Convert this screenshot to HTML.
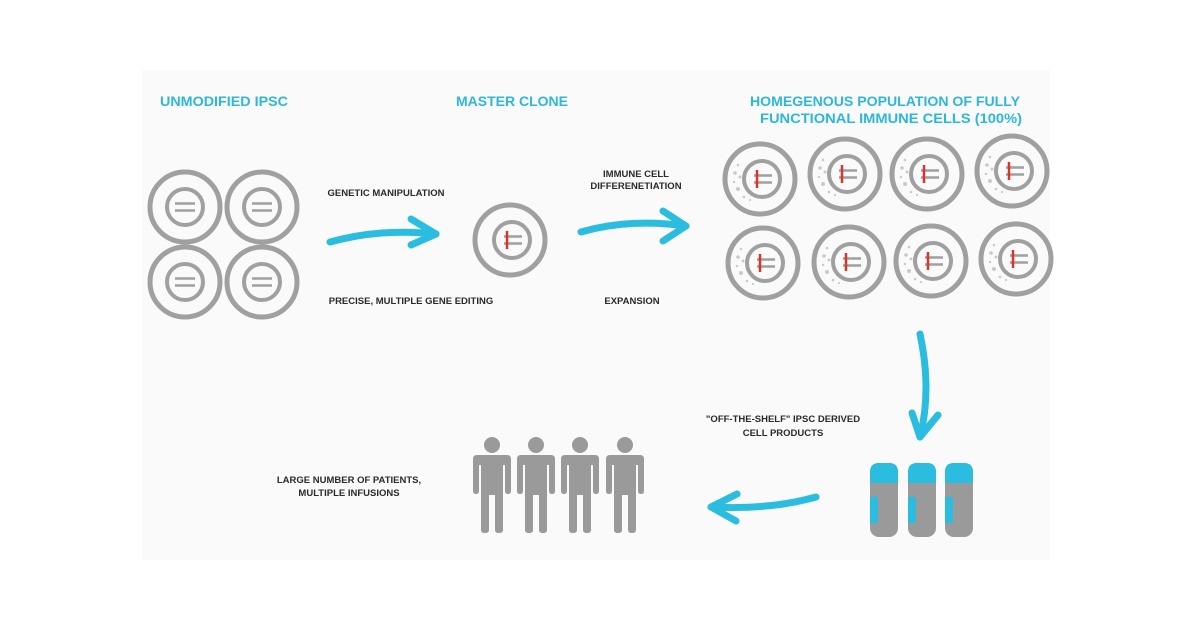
<!DOCTYPE html>
<html><head><meta charset="utf-8"><style>
html,body{margin:0;padding:0;background:#fff;width:1200px;height:627px;overflow:hidden}
svg{display:block}
.t{font-family:"Liberation Sans Narrow","Liberation Sans",sans-serif;fill:#2cb8dc;font-size:14px;font-weight:bold}
.s{font-family:"Liberation Sans",sans-serif;fill:#2a2a2a;font-size:9.5px;font-weight:bold}
.o{fill:none;stroke:#a0a0a0;stroke-width:5}
.i{fill:none;stroke:#a0a0a0;stroke-width:4}
.l{stroke:#a0a0a0;stroke-width:2.5}
.r{stroke:#d9362b;stroke-width:2.5}
.a{fill:none;stroke:#2bbde0;stroke-width:7;stroke-linecap:round;stroke-linejoin:round}
.d{fill:#cacaca}
</style></head><body>
<svg width="1200" height="627" viewBox="0 0 1200 627">
<rect x="142" y="70" width="908" height="490" fill="#fafafa"/>
<defs>
<g id="u">
<circle r="35" class="o"/><circle r="18" class="i"/>
<line x1="-10" y1="-3.5" x2="10" y2="-3.5" class="l"/><line x1="-10" y1="3.5" x2="10" y2="3.5" class="l"/>
</g>
<g id="m">
<circle r="35" class="o"/><circle cx="2" r="18" class="i"/>
<line x1="-6" y1="-3.5" x2="12" y2="-3.5" class="l"/><line x1="-6" y1="3.5" x2="12" y2="3.5" class="l"/>
<line x1="-3" y1="-9" x2="-3" y2="9" class="r"/>
</g>
<g id="c">
<circle r="35" class="o"/><circle cx="2" r="18" class="i"/>
<line x1="-6" y1="-3.5" x2="12" y2="-3.5" class="l"/><line x1="-6" y1="3.5" x2="12" y2="3.5" class="l"/>
<line x1="-3" y1="-9" x2="-3" y2="9" class="r"/>
<circle cx="-22" cy="-14" r="1.3" class="d"/><circle cx="-25" cy="-6" r="1.8" class="d"/>
<circle cx="-20" cy="-2" r="1.5" class="d"/><circle cx="-26" cy="3" r="1.2" class="d"/>
<circle cx="-22" cy="10" r="2" class="d"/><circle cx="-16" cy="18" r="1.3" class="d"/>
<circle cx="-10" cy="21" r="1.1" class="d"/>
</g>
<g id="p" fill="#9a9a9a">
<circle cx="0" cy="0" r="8"/>
<path d="M-19,14 Q-19,10 -15,10 L15,10 Q19,10 19,14 L19,46 Q19,49 16,49 Q13,49 13,46 L13,20 L11,20 L11,85 Q11,88 7,88 Q3,88 3,85 L3,50 L-3,50 L-3,85 Q-3,88 -7,88 Q-11,88 -11,85 L-11,20 L-13,20 L-13,46 Q-13,49 -16,49 Q-19,49 -19,46 Z"/>
</g>
<g id="v">
<rect x="0" y="0" width="28" height="74" rx="9" fill="#9a9a9a"/>
<path d="M0,20 L0,9 Q0,0 9,0 L19,0 Q28,0 28,9 L28,20 Z" fill="#2bbde0"/>
<rect x="0" y="34" width="8" height="26" fill="#2bbde0"/>
</g>
</defs>

<text class="t" x="224" y="106" text-anchor="middle" textLength="128" lengthAdjust="spacingAndGlyphs">UNMODIFIED IPSC</text>
<text class="t" x="512" y="106" text-anchor="middle" textLength="112" lengthAdjust="spacingAndGlyphs">MASTER CLONE</text>
<text class="t" x="885" y="106" text-anchor="middle" textLength="270" lengthAdjust="spacingAndGlyphs">HOMEGENOUS POPULATION OF FULLY</text>
<text class="t" x="891" y="123" text-anchor="middle" textLength="262" lengthAdjust="spacingAndGlyphs">FUNCTIONAL IMMUNE CELLS (100%)</text>

<use href="#u" x="185" y="207"/><use href="#u" x="262" y="207"/>
<use href="#u" x="185" y="282"/><use href="#u" x="262" y="282"/>
<use href="#m" x="510" y="240"/>

<use href="#c" x="760" y="179"/><use href="#c" x="845" y="174"/>
<use href="#c" x="927" y="174"/><use href="#c" x="1012" y="171"/>
<use href="#c" x="763" y="263"/><use href="#c" x="849" y="262"/>
<use href="#c" x="931" y="261"/><use href="#c" x="1016" y="259"/>

<text class="s" x="386" y="196" text-anchor="middle">GENETIC MANIPULATION</text>
<text class="s" x="411" y="304" text-anchor="middle">PRECISE, MULTIPLE GENE EDITING</text>
<text class="s" x="636" y="177" text-anchor="middle">IMMUNE CELL</text>
<text class="s" x="636" y="189" text-anchor="middle">DIFFERENETIATION</text>
<text class="s" x="632" y="304" text-anchor="middle">EXPANSION</text>
<text class="s" x="783" y="422" text-anchor="middle">"OFF-THE-SHELF" IPSC DERIVED</text>
<text class="s" x="783" y="436" text-anchor="middle">CELL PRODUCTS</text>
<text class="s" x="349" y="483" text-anchor="middle">LARGE NUMBER OF PATIENTS,</text>
<text class="s" x="349" y="496" text-anchor="middle">MULTIPLE INFUSIONS</text>

<path class="a" d="M330,242 Q380,228 436,234"/>
<path class="a" d="M411,219 L436,234 L411,245"/>
<path class="a" d="M581,232 Q630,218 686,226"/>
<path class="a" d="M663,211 L686,226 L663,241"/>
<path class="a" d="M920,334 Q932,390 920,437"/>
<path class="a" d="M912,413 L920,437 L938,415"/>
<path class="a" d="M816,497 Q770,510 711,507"/>
<path class="a" d="M737,494 L711,507 L736,521"/>

<use href="#p" x="492" y="445"/><use href="#p" x="536" y="445"/>
<use href="#p" x="580" y="445"/><use href="#p" x="625" y="445"/>

<use href="#v" x="870" y="463"/><use href="#v" x="908" y="463"/><use href="#v" x="945" y="463"/>
</svg>
</body></html>
